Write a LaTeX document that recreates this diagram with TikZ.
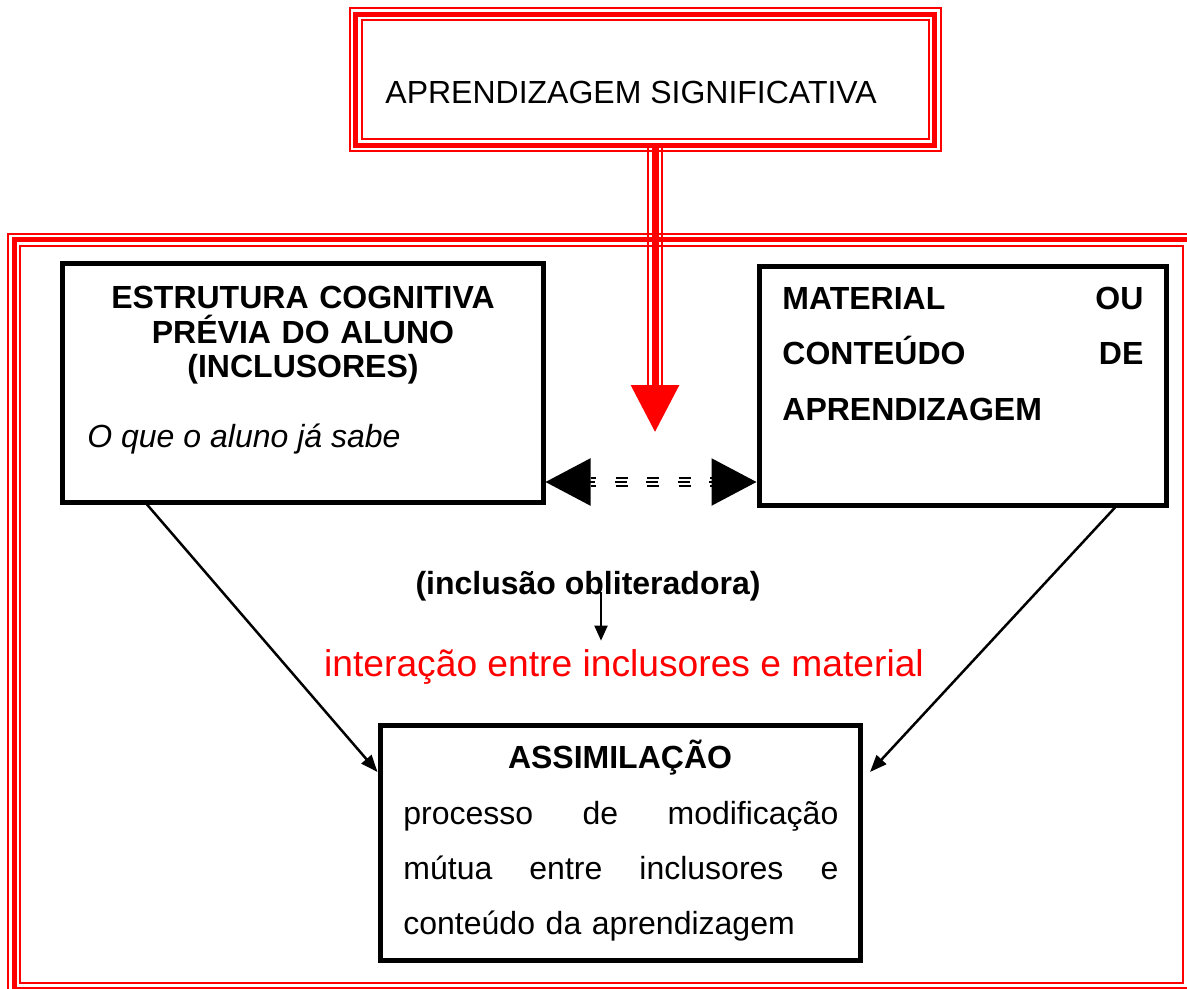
\documentclass[tikz,border=0pt]{standalone}
\usepackage{fontspec}
\setmainfont{Liberation Sans}
\usetikzlibrary{arrows.meta}

\begin{document}
\begin{tikzpicture}[x=0.5pt, y=-0.5pt,
    concept box/.style={draw, line width=2.5pt, inner sep=0pt},
    red band/.style={draw=red, line width=2.5pt},
    red rule/.style={draw=red, line width=1pt},
    plain text/.style={inner sep=0pt, font=\fontsize{16}{27.5}\selectfont},
    bold text/.style={inner sep=0pt, font=\fontsize{16}{27.5}\selectfont\bfseries},
    link line/.style={line width=1.1pt, dash pattern=on 6pt off 9.75pt, dash phase=3.25pt},
    connector/.style={line width=1.25pt, -{Triangle[length=8.5pt,width=6.5pt]}}]
    \useasboundingbox (0,0) rectangle (1187,989);
    \clip (0,0) rectangle (1187,989);

    % boxes
    \node[concept box, minimum width=240.5pt, minimum height=119pt] (estrutura) at (302.5,383) {};
    \node[concept box, minimum width=203.5pt, minimum height=119pt] (material) at (962.5,386) {};
    \node[concept box, minimum width=240pt, minimum height=117.5pt] (assimilacao) at (620,842.5) {};
    \node[red band, outer sep=0pt, minimum width=289.5pt, minimum height=65.5pt] (signif) at (645,80) {};
    \draw[red rule] ([shift={(-6,-6)}]signif.north west) rectangle ([shift={(6,6)}]signif.south east);
    \draw[red rule] ([shift={(6,6)}]signif.north west) rectangle ([shift={(-6,-6)}]signif.south east);

    % outer frame
    \draw[red band] (14,240) rectangle (1189,989);
    \draw[red rule] (8,234) rectangle (1195,995);
    \draw[red rule] (20,246) rectangle (1183,983);

    % texts
    \node[plain text, anchor=base west] (signif text) at (385,104) {APRENDIZAGEM SIGNIFICATIVA};
    \node[bold text, font=\fontsize{16}{17.5}\selectfont\bfseries, text width=220pt, align=center, anchor=base] (estrutura title) at (303,308) {ESTRUTURA COGNITIVA\\ PRÉVIA DO ALUNO\\ (INCLUSORES)};
    \node[plain text, font=\fontsize{16}{18}\selectfont\itshape, anchor=base west] (estrutura note) at (87,447) {O que o aluno já sabe};
    \node[bold text, text width=180.5pt, align=left, anchor=base west] (material text) at (782,310) {MATERIAL\hfill OU\\ CONTEÚDO\hfill DE\\ APRENDIZAGEM};
    \node[bold text, anchor=base] (assimilacao title) at (620,768) {ASSIMILAÇÃO};
    \node[plain text, text width=217.5pt, align=left, anchor=base west] (assimilacao text) at (403,824) {processo\hfill de\hfill modificação\\ mútua\hfill entre\hfill inclusores\hfill e\\ conteúdo da aprendizagem};
    \node[bold text, anchor=base] (obliteradora) at (588,594) {(inclusão obliteradora)};
    \node[plain text, text=red, font=\fontsize{18.6}{22}\selectfont, anchor=base] (interacao) at (624,676) {interação entre inclusores e material};

    % red arrow from the top box
    \coordinate (signif tip) at (655,432);
    \draw[red band, line width=3.5pt, -{Triangle[length=23.5pt,width=23.5pt]}] (signif.south -| signif tip) -- (signif tip);
    \foreach \dx in {-3.5,3.5}
        \draw[red rule, shorten >=23.5pt, transform canvas={xshift=\dx pt}] (signif.south -| signif tip) -- (signif tip);

    % link between the two upper boxes
    \coordinate (link) at (650,482);
    \draw[link line, {Triangle[length=22.5pt,width=23.5pt]}-{Triangle[length=22.5pt,width=23.5pt]}] (estrutura.east |- link) -- (material.west |- link);
    \foreach \dy in {-2.1,2.1}
        \draw[link line, shorten <=22.5pt, shorten >=22.5pt, transform canvas={yshift=\dy pt}] (estrutura.east |- link) -- (material.west |- link);

    % connectors
    \draw[connector] ([shift={(87.5,0)}]estrutura.south west) -- ([shift={(0,49.5)}]assimilacao.north west);
    \draw[connector] ([shift={(-53.5,0)}]material.south east) -- ([shift={(7.5,49.5)}]assimilacao.north east);
    \coordinate (oblit arrow) at (601,592);
    \draw[line width=1pt, -{Triangle[length=7.5pt,width=6.5pt]}, shorten >=4pt] (oblit arrow) -- (interacao.north -| oblit arrow);
\end{tikzpicture}
\end{document}
